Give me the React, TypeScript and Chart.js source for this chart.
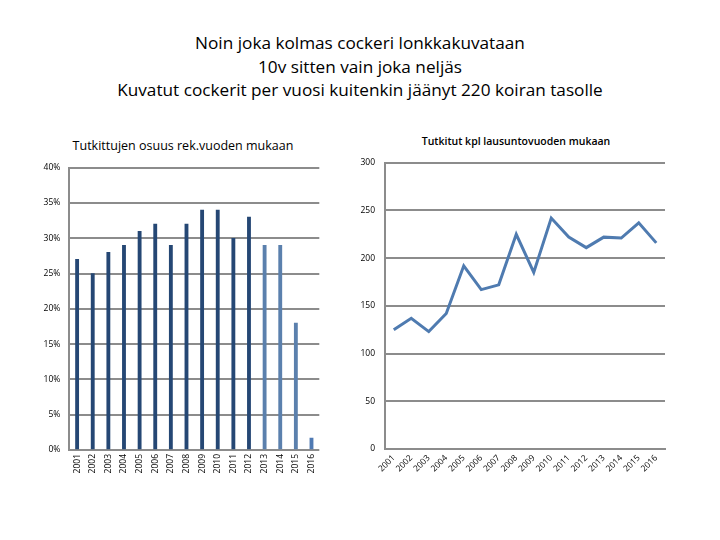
import React, { useEffect, useRef } from "react";
import { Chart, registerables } from "chart.js";

Chart.register(...registerables);

const years = ["2001","2002","2003","2004","2005","2006","2007","2008","2009","2010","2011","2012","2013","2014","2015","2016"];
const sharePct = [27, 25, 28, 29, 31, 32, 29, 32, 34, 34, 30, 33, 29, 29, 18, 1.7];
const examinedCount = [125, 137, 123, 142, 192, 167, 172, 225, 185, 242, 222, 211, 222, 221, 237, 216];
const barColors = ["#254774","#254774","#254774","#254774","#254774","#254774","#254774","#254774","#254774","#254774","#254774","#254774","#5B80AD","#5B80AD","#5B80AD","#4F7AB3"];
const titleLines = ["Noin joka kolmas cockeri lonkkakuvataan", "10v sitten vain joka neljäs", "Kuvatut cockerit per vuosi kuitenkin jäänyt 220 koiran tasolle"];
const leftTitle = "Tutkittujen osuus rek.vuoden mukaan";
const rightTitle = "Tutkitut kpl lausuntovuoden mukaan";

const FONT = "'Open Sans', 'DejaVu Sans', sans-serif";
const GRID = "#8C8C8C";

export default function App() {
  const leftRef = useRef<HTMLCanvasElement>(null);
  const rightRef = useRef<HTMLCanvasElement>(null);

  useEffect(() => {
    const left = new Chart(leftRef.current!, {
      type: "bar",
      data: {
        labels: years,
        datasets: [{ data: sharePct, backgroundColor: barColors, barThickness: 3.2 }],
      },
      options: {
        animation: false,
        responsive: false,
        layout: { padding: { top: 37.7, right: 20.7, left: 0, bottom: 0 } },
        plugins: { legend: { display: false }, tooltip: { enabled: false } },
        scales: {
          x: {
            offset: true,
            grid: { display: false, drawTicks: false },
            border: { display: false },
            ticks: { minRotation: 90, maxRotation: 90, autoSkip: false, padding: 4, color: "#000", font: { family: FONT, size: 8.5 } },
            afterFit: (s: any) => { s.height = 50; },
          },
          y: {
            min: 0, max: 40,
            grid: { color: GRID, lineWidth: 2, drawTicks: false },
            border: { color: GRID, width: 2 },
            ticks: { stepSize: 5, padding: 9, color: "#000", font: { family: FONT, size: 8.5 }, callback: (v: any) => v + "%" },
            afterFit: (s: any) => { s.width = 69.3; },
          },
        },
      },
    });
    const right = new Chart(rightRef.current!, {
      type: "line",
      data: {
        labels: years,
        datasets: [{ data: examinedCount, borderColor: "#4F7BB0", borderWidth: 3, pointRadius: 0, tension: 0, fill: false }],
      },
      options: {
        animation: false,
        responsive: false,
        layout: { padding: { top: 32.7, right: 45, left: 0, bottom: 0 } },
        plugins: { legend: { display: false }, tooltip: { enabled: false } },
        scales: {
          x: {
            offset: true,
            grid: { display: false, drawTicks: false },
            border: { color: GRID, width: 2 },
            ticks: { minRotation: 45, maxRotation: 45, autoSkip: false, padding: 4, color: "#000", font: { family: FONT, size: 8.5 } },
            afterFit: (s: any) => { s.height = 51; },
          },
          y: {
            min: 0, max: 300,
            grid: { color: GRID, lineWidth: 2, drawTicks: false },
            border: { color: GRID, width: 2 },
            ticks: { stepSize: 50, padding: 10, color: "#000", font: { family: FONT, size: 8.5 } },
            afterFit: (s: any) => { s.width = 45; },
          },
        },
      },
    });
    return () => { left.destroy(); right.destroy(); };
  }, []);

  return (
    <div style={{ position: "fixed", left: 0, top: 0, width: 720, height: 540, background: "#fff", fontFamily: FONT }}>
      <div style={{ position: "absolute", left: 0, top: 31, width: 720, textAlign: "center", fontSize: 17.2, lineHeight: "23.5px", color: "#000" }}>
        {titleLines.map((t, i) => <div key={i}>{t}</div>)}
      </div>
      <div style={{ position: "absolute", left: 40, top: 137, width: 286, textAlign: "center", fontSize: 12.5, color: "#000" }}>{leftTitle}</div>
      <div style={{ position: "absolute", left: 380, top: 134, width: 272, textAlign: "center", fontSize: 10.5, fontWeight: 600, color: "#000" }}>{rightTitle}</div>
      <canvas ref={leftRef} width={340} height={370} style={{ position: "absolute", left: 0, top: 130, width: 340, height: 370 }} />
      <canvas ref={rightRef} width={370} height={370} style={{ position: "absolute", left: 340, top: 130, width: 370, height: 370 }} />
    </div>
  );
}
